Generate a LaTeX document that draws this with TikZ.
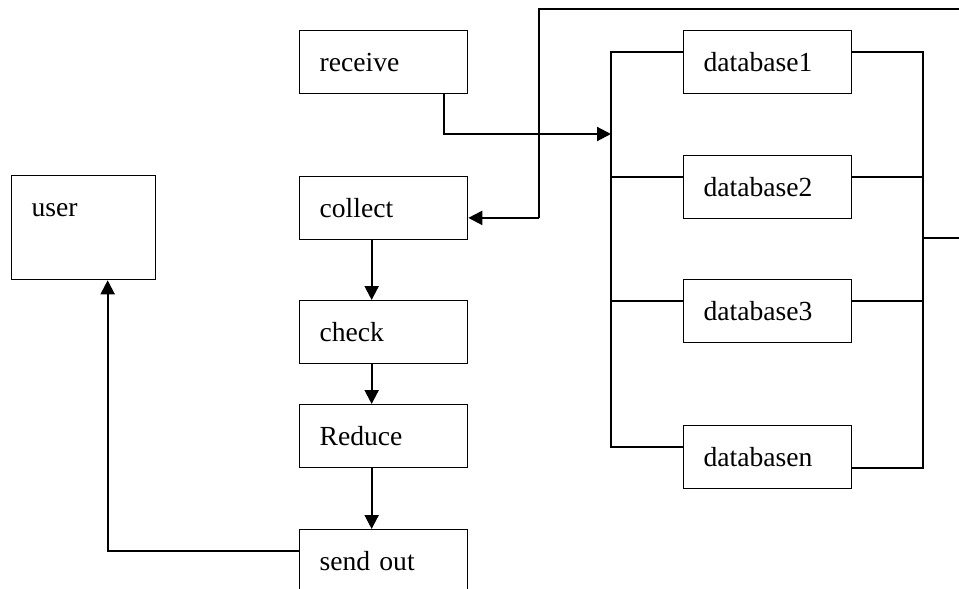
\documentclass[tikz,border=0pt]{standalone}
\usepackage{fontspec}
\setmainfont{Liberation Serif}
\usetikzlibrary{arrows.meta,calc}
\begin{document}
\begin{tikzpicture}[x=1pt,y=-1pt,
  box/.style={draw, line width=1.3pt, anchor=north west, minimum width=168pt,
    inner xsep=20pt, inner ysep=0pt, text width=128pt, align=left,
    text height=41pt, text depth=21.5pt, font=\fontsize{27.6pt}{33pt}\selectfont},
  arr/.style={line width=2.1pt, -{Triangle[length=14pt,width=14pt]}},
  wire/.style={line width=1.3pt}]
\clip (0,0) rectangle (959,589);
% boxes
\node[box] (receive) at (299,30) {receive};
\node[box] (collect) at (299,176) {collect};
\node[box] (check)   at (299,300) {check};
\node[box] (reduce)  at (299,404) {Reduce};
\node[box] (sendout) at (299,529) {send out};
\node[box, minimum width=144pt, text width=104pt, text depth=63pt] (user) at (11,175) {user};
\node[box] (db1) at (683,30)  {database1};
\node[box] (db2) at (683,155) {database2};
\node[box] (db3) at (683,279) {database3};
\node[box] (dbn) at (683,425) {databasen};
% coordinates
\coordinate (busin) at (611,134);
\coordinate (ext1) at (959,9);
\coordinate (bendx) at (539,0);
\coordinate (ext2) at (959,238);
\coordinate (RB) at (923,0);
\coordinate (LB) at (611,0);
\coordinate (d1l) at ([yshift=10pt]db1.west);
\coordinate (d2l) at ([yshift=10pt]db2.west);
\coordinate (d3l) at ([yshift=10pt]db3.west);
\coordinate (dnl) at ([yshift=10pt]dbn.west);
\coordinate (d1r) at ([yshift=10pt]db1.east);
\coordinate (d2r) at ([yshift=10pt]db2.east);
\coordinate (d3r) at ([yshift=10pt]db3.east);
\coordinate (dnr) at ([yshift=-11pt]dbn.east);
\coordinate (cin) at ([yshift=-10pt]collect.east);
% left bus
\draw[wire] (d1l) -- (d1l -| LB) -- (dnl -| LB) -- (dnl);
\draw[wire] (d2l) -- (d2l -| LB);
\draw[wire] (d3l) -- (d3l -| LB);
% right bus
\draw[wire] (d1r) -- (d1r -| RB) -- (dnr -| RB) -- (dnr);
\draw[wire] (d2r) -- (d2r -| RB);
\draw[wire] (d3r) -- (d3r -| RB);
\draw[wire] (ext2 -| RB) -- (ext2);
% arrows
\draw[arr] ([xshift=-24pt]receive.south east) |- (busin);
\draw[wire] (ext1) -| (cin -| bendx);
\draw[arr] (cin -| bendx) -- (cin);
\draw[arr] ([xshift=-12pt]collect.south) -- ([xshift=-12pt]check.north);
\draw[arr] ([xshift=-12pt]check.south) -- ([xshift=-12pt]reduce.north);
\draw[arr] ([xshift=-12pt]reduce.south) -- ([xshift=-12pt]sendout.north);
\draw[arr] ([yshift=10pt]sendout.west) -| ([xshift=24pt]user.south);
\end{tikzpicture}
\end{document}
